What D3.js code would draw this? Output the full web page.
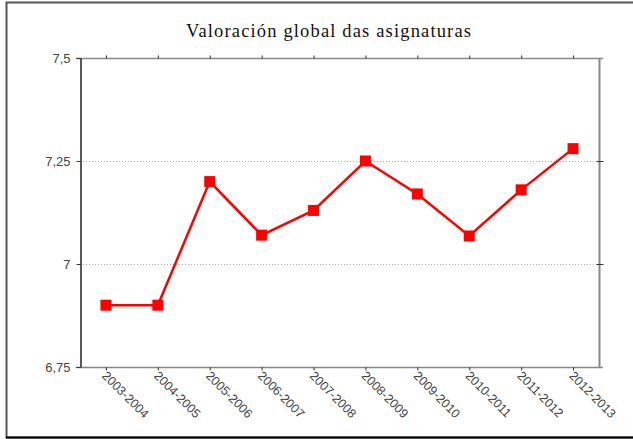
<!DOCTYPE html>
<html><head><meta charset="utf-8">
<script src="https://cdn.jsdelivr.net/npm/d3@7"></script>
<style>body{margin:0;background:#fff}</style>
</head><body>
<script>
const categories = ["2003-2004","2004-2005","2005-2006","2006-2007","2007-2008","2008-2009","2009-2010","2010-2011","2011-2012","2012-2013"];
const values = [6.90, 6.90, 7.20, 7.07, 7.13, 7.25, 7.17, 7.068, 7.18, 7.28];
const yTicks = [6.75, 7, 7.25, 7.5];
const yTickLabels = ["6,75", "7", "7,25", "7,5"];
const title = "Valoración global das asignaturas";

const W = 633, H = 439;
const m = {l: 80, r: 599, t: 58, b: 367};
const svg = d3.select("body").append("svg").attr("width", W).attr("height", H);

svg.append("rect").attr("x", 6.5).attr("y", 2.5).attr("width", 700).attr("height", 435)
  .attr("fill", "none").attr("stroke", "#555").attr("stroke-width", 2);
svg.append("line").attr("x1", 6).attr("x2", W).attr("y1", 437.5).attr("y2", 437.5)
  .attr("stroke", "#000").attr("stroke-width", 2);

svg.append("text").attr("x", 328.5).attr("y", 37).attr("text-anchor", "middle")
  .attr("font-family", "'Liberation Serif', serif").attr("font-size", 18.5)
  .attr("textLength", 285).attr("lengthAdjust", "spacing")
  .attr("fill", "#111").text(title);

const x = d3.scalePoint().domain(categories).range([m.l, m.r]).padding(0.5);
const y = d3.scaleLinear().domain([6.75, 7.5]).range([m.b, m.t]);

// gridlines
svg.append("g").selectAll("line").data(yTicks.filter(d => d > 6.75 && d < 7.5)).join("line")
  .attr("x1", m.l).attr("x2", m.r).attr("y1", d => Math.round(y(d)) + 0.5).attr("y2", d => Math.round(y(d)) + 0.5)
  .attr("stroke", "#aaa").attr("stroke-dasharray", "1,2");

// frame axes
const gray = "#888";
svg.append("line").attr("x1", 76).attr("x2", 603).attr("y1", m.t + 0.5).attr("y2", m.t + 0.5).attr("stroke", gray).attr("stroke-width", 1.5);
svg.append("line").attr("x1", 76).attr("x2", 603).attr("y1", m.b + 0.5).attr("y2", m.b + 0.5).attr("stroke", gray).attr("stroke-width", 1.5);
svg.append("line").attr("x1", m.r + 0.5).attr("x2", m.r + 0.5).attr("y1", m.t).attr("y2", m.b).attr("stroke", gray).attr("stroke-width", 2);

// bottom axis
const xb = svg.append("g").attr("transform", `translate(0,${m.b + 0.5})`)
  .call(d3.axisBottom(x).tickSize(3).tickSizeOuter(0));
xb.select(".domain").remove();
xb.selectAll(".tick line").attr("stroke", "#333");
xb.selectAll(".tick text").attr("font-family", "'Liberation Sans', Arial, sans-serif").attr("font-size", 12.5)
  .attr("fill", "#444").attr("text-anchor", "start")
  .attr("transform", "translate(-2,6) rotate(45)").attr("dy", "0.35em").attr("y", 0).attr("x", 0);

// top axis ticks
const xt = svg.append("g").attr("transform", `translate(0,${m.t + 0.5})`)
  .call(d3.axisTop(x).tickSize(3).tickSizeOuter(0).tickFormat(""));
xt.select(".domain").remove();
xt.selectAll(".tick line").attr("stroke", "#333");

// left axis
const yl = svg.append("g").attr("transform", `translate(${m.l + 0.5},0)`)
  .call(d3.axisLeft(y).tickValues(yTicks).tickSize(4).tickSizeOuter(0)
    .tickFormat((d, i) => yTickLabels[i]));
yl.select(".domain").attr("stroke", "#222").attr("stroke-width", 1.5);
yl.selectAll(".tick line").attr("stroke", "#333");
yl.selectAll(".tick text").attr("font-family", "'Liberation Sans', Arial, sans-serif").attr("font-size", 13)
  .attr("fill", "#444").attr("x", -10);

// right axis ticks
const yr = svg.append("g").attr("transform", `translate(${m.r + 0.5},0)`)
  .call(d3.axisRight(y).tickValues(yTicks.filter(d => d > 6.75 && d < 7.5)).tickSize(4).tickFormat(""));
yr.select(".domain").remove();
yr.selectAll(".tick line").attr("stroke", "#333").attr("x1", -3);

// line
const line = d3.line().x((d, i) => x(categories[i])).y(d => y(d));
svg.append("path").datum(values).attr("d", line).attr("fill", "none")
  .attr("stroke", "#ff0000").attr("stroke-width", 2.5);
svg.append("g").selectAll("rect").data(values).join("rect")
  .attr("x", (d, i) => x(categories[i]) - 5.5).attr("y", d => y(d) - 5.5)
  .attr("width", 11).attr("height", 11).attr("fill", "#ff0000");
</script>
</body></html>
